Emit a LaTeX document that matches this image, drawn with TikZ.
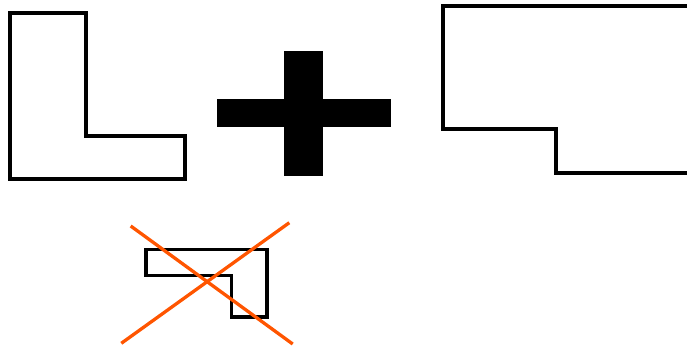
\documentclass[tikz,border=0pt]{standalone}
\begin{document}
\begin{tikzpicture}[x=1pt,y=-1pt,
  outline/.style={draw=black,line width=4pt,line join=miter},
  cross/.style={draw={rgb,255:red,255;green,85;blue,0},line width=3.3pt},
  plusbar/.style={fill=black}]
\useasboundingbox (0,0) rectangle (687,347);
\clip (0,0) rectangle (687,347);
% L shape
\draw[outline] (10,13.5) -- (86,13.5) -- (86,136.5) -- (185,136.5) -- (185,179) -- (10,179) -- cycle;
% plus
\fill[plusbar] (284,51) rectangle (323.3,176);
\fill[plusbar] (217.3,99) rectangle (391,127.3);
% right shape
\draw[outline] (700,6) -- (442.7,6) -- (442.7,129) -- (556,129) -- (556,173.3) -- (700,173.3);
% small crossed shape
\draw[outline,line width=3.6pt] (146,249.3) -- (266.7,249.3) -- (266.7,316.7) -- (231.3,316.7) -- (231.3,275.3) -- (146,275.3) -- cycle;
\coordinate (c1a) at (130.7,226);
\coordinate (c1b) at (292.7,344);
\coordinate (c2a) at (289.3,222.7);
\coordinate (c2b) at (121.3,343.3);
\draw[cross] (c1a) -- (c1b);
\draw[cross] (c2a) -- (c2b);
\end{tikzpicture}
\end{document}
